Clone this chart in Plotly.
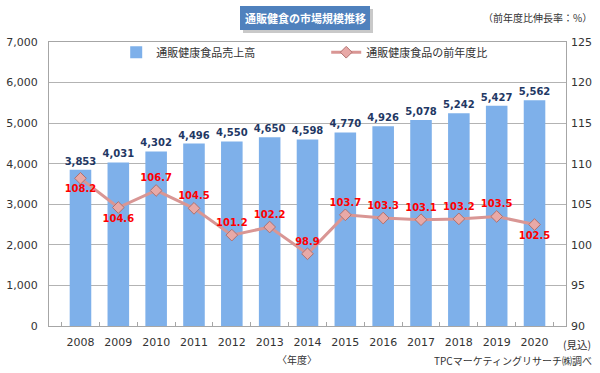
import plotly.graph_objects as go

years = ["2008", "2009", "2010", "2011", "2012", "2013", "2014",
         "2015", "2016", "2017", "2018", "2019", "2020"]
sales = [3853, 4031, 4302, 4496, 4550, 4650, 4598, 4770, 4926, 5078, 5242, 5427, 5562]
growth = [108.2, 104.6, 106.7, 104.5, 101.2, 102.2, 98.9, 103.7, 103.3, 103.1, 103.2, 103.5, 102.5]
growth_pos = ["bottom center", "bottom center", "top center", "top center", "top center",
              "top center", "top center", "top center", "top center", "top center",
              "top center", "top center", "bottom center"]
left_ticks = [0, 1000, 2000, 3000, 4000, 5000, 6000, 7000]
right_ticks = [90, 95, 100, 105, 110, 115, 120, 125]

sales_text = [f"{v:,}" for v in sales]
growth_text = [f"{v:.1f}" for v in growth]

NUM = "DejaVu Sans, Noto Sans CJK JP"
JP = "Noto Sans CJK JP, DejaVu Sans"

W, H = 600, 373
ML, MR, MT, MB = 49, 34, 42, 47
PW, PH = W - ML - MR, H - MT - MB


def px(x):
    return (x - ML) / PW


def py(y):
    return (H - MB - y) / PH


fig = go.Figure()
fig.add_trace(go.Bar(
    x=years, y=sales, name="通販健康食品売上高",
    marker=dict(color="#7eb0ea", line=dict(width=0)),
    text=sales_text, textposition="outside", constraintext="none",
    textfont=dict(family=NUM, size=10, color="#1f3864", weight="bold"),
    cliponaxis=False,
))
fig.add_trace(go.Scatter(
    x=years, y=growth, name="通販健康食品の前年度比", yaxis="y2",
    mode="lines+markers+text",
    line=dict(color="#d99694", width=3),
    marker=dict(symbol="diamond", size=9, color="#e8a9a7",
                line=dict(color="#b0706e", width=1)),
    text=growth_text, textposition=growth_pos,
    textfont=dict(family=NUM, size=10, color="#ff0000", weight="bold"),
    cliponaxis=False,
))

fig.update_layout(
    width=W, height=H,
    margin=dict(l=ML, r=MR, t=MT, b=MB, autoexpand=False),
    paper_bgcolor="white", plot_bgcolor="white",
    bargap=0.43,
    showlegend=True,
    legend=dict(orientation="h", x=0.13, y=1.015, xanchor="left", yanchor="top",
                bgcolor="rgba(0,0,0,0)", entrywidth=165, entrywidthmode="pixels",
                font=dict(family=JP, size=11, color="#333333")),
    xaxis=dict(type="category", showline=True, linecolor="#a6a6a6", mirror=True,
               ticks="inside", ticklen=4, tickcolor="#a6a6a6", tickson="boundaries",
               tickfont=dict(family=NUM, size=11, color="#333333"),
               ticklabelstandoff=6,
               showgrid=False, automargin=False),
    yaxis=dict(range=[0, 7000], tickvals=left_ticks,
               ticktext=[f"{v:,}" for v in left_ticks],
               showline=True, linecolor="#a6a6a6", mirror=True,
               gridcolor="#b3b3b3", gridwidth=1, zeroline=False,
               ticklabelstandoff=8, automargin=False,
               tickfont=dict(family=NUM, size=11, color="#333333")),
    yaxis2=dict(range=[90, 125], tickvals=right_ticks, overlaying="y", side="right",
                showgrid=False, zeroline=False, showline=False,
                ticklabelstandoff=4, automargin=False,
                tickfont=dict(family=NUM, size=11, color="#333333")),
)

# title box with shadow
fig.add_shape(type="rect", xref="paper", yref="paper",
              x0=px(243), x1=px(373), y0=py(33), y1=py(9),
              fillcolor="#c9c9c9", line=dict(width=0), layer="below")
fig.add_shape(type="rect", xref="paper", yref="paper",
              x0=px(240), x1=px(370), y0=py(30), y1=py(6),
              fillcolor="#4f81bd", line=dict(width=0), layer="above")
fig.add_annotation(text="<b>通販健食の市場規模推移</b>", xref="paper", yref="paper",
                   x=px(305), y=py(18), xanchor="center", yanchor="middle",
                   showarrow=False,
                   font=dict(family=JP, size=11, color="white"))
fig.add_annotation(text="（前年度比伸長率：%）", xref="paper", yref="paper",
                   x=px(594), y=py(18), xanchor="right", yanchor="middle",
                   showarrow=False,
                   font=dict(family=JP, size=10, color="#333333"))
fig.add_annotation(text="〈年度〉", xref="paper", yref="paper",
                   x=px(297), y=py(359), xanchor="center", yanchor="middle",
                   showarrow=False,
                   font=dict(family=JP, size=10, color="#333333"))
fig.add_annotation(text="TPCマーケティングリサーチ㈱調べ", xref="paper", yref="paper",
                   x=px(594), y=py(360), xanchor="right", yanchor="middle",
                   showarrow=False,
                   font=dict(family=JP, size=10, color="#333333"))
fig.add_annotation(text="(見込)", xref="paper", yref="paper",
                   x=px(593), y=py(344), xanchor="right", yanchor="middle",
                   showarrow=False,
                   font=dict(family=JP, size=10.5, color="#333333"))

fig.write_html("out.html", config={"displayModeBar": False},
               post_script="document.body.style.margin='0';")
